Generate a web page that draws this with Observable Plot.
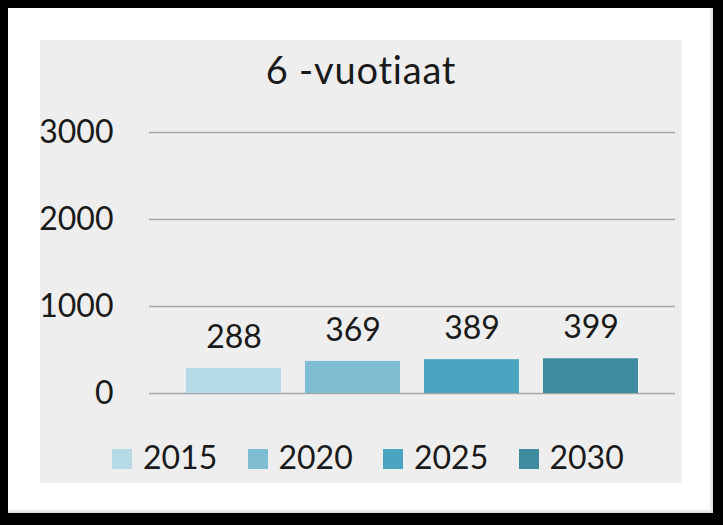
<!DOCTYPE html>
<html><head><meta charset="utf-8">
<script src="https://cdn.jsdelivr.net/npm/d3@7"></script>
<script src="https://cdn.jsdelivr.net/npm/@observablehq/plot@0.6"></script>
<style>
html,body{margin:0;padding:0;background:#000;width:723px;height:525px;overflow:hidden;font-family:Lato,sans-serif;}
#card{position:absolute;left:8px;top:8px;width:705px;height:505px;background:#fff;box-shadow:inset -2px -2px 3px rgba(0,0,0,0.15);}
#panel{position:absolute;left:40px;top:40px;width:642px;height:443px;background:#eeeeee;}
#title{position:absolute;left:0;top:10px;width:642px;text-align:center;font-size:38px;line-height:38px;letter-spacing:0.8px;color:#1a1a1a;}
#chart{position:absolute;left:0;top:60px;}
#chart svg{overflow:visible;}
#legend{position:absolute;left:72px;top:401px;display:flex;}
.item{width:135.5px;display:flex;align-items:flex-start;}
.sw{width:20px;height:20px;margin-top:8px;margin-right:11px;}
.lab{font-size:32px;line-height:32px;color:#1a1a1a;}
</style></head>
<body>
<div id="card"></div>
<div id="panel">
  <div id="title"></div>
  <div id="chart"></div>
  <div id="legend"></div>
</div>
<script>
const title = "6 -vuotiaat";
const years = ["2015", "2020", "2025", "2030"];
const values = [288, 369, 389, 399];
const colors = ["#b5d9e5", "#7fbdd3", "#4ca5c0", "#3e8a9f"];
const yTicks = [0, 1000, 2000, 3000];

const data = years.map((year, i) => ({year, value: values[i]}));

document.getElementById("title").textContent = title;

const plot = Plot.plot({
  width: 642,
  height: 330,
  marginLeft: 109,
  marginRight: 7,
  marginTop: 32,
  marginBottom: 37,
  style: {background: "transparent", fontFamily: "Lato, sans-serif", fontSize: "32px", color: "#1a1a1a", overflow: "visible"},
  x: {domain: years, paddingInner: 0.2, paddingOuter: 0.3, axis: null},
  y: {domain: [0, 3000], axis: null},
  color: {domain: years, range: colors},
  marks: [
    Plot.gridY(yTicks, {stroke: "#a6a6a6", strokeOpacity: 1, strokeWidth: 1.3}),
    Plot.axisY(yTicks, {tickSize: 0, tickPadding: 36, label: null, tickFormat: d => String(d), fill: "#1a1a1a"}),
    Plot.barY(data, {x: "year", y: "value", fill: "year"}),
    Plot.text(data, {x: "year", y: "value", text: d => String(d.value), dy: -31, fontSize: 32, fill: "#1a1a1a"})
  ]
});
document.getElementById("chart").appendChild(plot);

const legend = document.getElementById("legend");
years.forEach((y, i) => {
  const item = document.createElement("div");
  item.className = "item";
  const sw = document.createElement("div");
  sw.className = "sw";
  sw.style.background = colors[i];
  const lab = document.createElement("span");
  lab.className = "lab";
  lab.textContent = y;
  item.appendChild(sw);
  item.appendChild(lab);
  legend.appendChild(item);
});
</script>
</body></html>
